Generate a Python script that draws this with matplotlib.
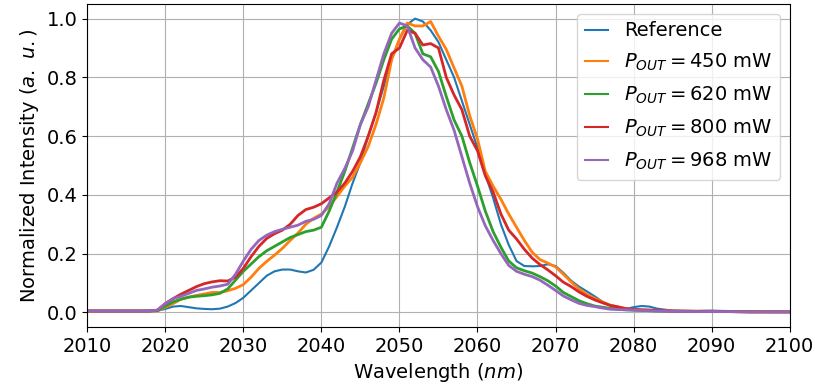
import numpy as np
import matplotlib
matplotlib.use("Agg")
import matplotlib.pyplot as plt

# wavelength grid (nm)
wl = [2010, 2015, 2018, 2019, 2020, 2021, 2022, 2023, 2024, 2025, 2026, 2027, 2028, 2029,
      2030, 2031, 2032, 2033, 2034, 2035, 2036, 2037, 2038, 2039,
      2040, 2041, 2042, 2043, 2044, 2045, 2046, 2047, 2048, 2049,
      2050, 2051, 2052, 2053, 2054, 2055, 2056, 2057, 2058, 2059,
      2060, 2061, 2062, 2063, 2064, 2065, 2066, 2067, 2068, 2069,
      2070, 2071, 2072, 2073, 2074, 2075, 2076, 2077, 2078, 2079,
      2080, 2081, 2082, 2083, 2085, 2088, 2090, 2092, 2095, 2100]

ref = [0.005, 0.005, 0.005, 0.006, 0.012, 0.020, 0.022, 0.018, 0.014, 0.012, 0.011, 0.013, 0.020, 0.032,
       0.050, 0.075, 0.100, 0.125, 0.140, 0.146, 0.146, 0.140, 0.136, 0.145,
       0.170, 0.225, 0.290, 0.360, 0.440, 0.510, 0.600, 0.680, 0.770, 0.860,
       0.930, 0.980, 1.000, 0.990, 0.960, 0.920, 0.860, 0.800, 0.720, 0.640,
       0.560, 0.470, 0.390, 0.300, 0.230, 0.175, 0.158, 0.157, 0.158, 0.164,
       0.158, 0.135, 0.108, 0.088, 0.072, 0.055, 0.037, 0.024, 0.015, 0.012,
       0.018, 0.022, 0.020, 0.013, 0.006, 0.005, 0.006, 0.005, 0.002, 0.001]

p450 = [0.005, 0.005, 0.005, 0.006, 0.018, 0.030, 0.045, 0.052, 0.058, 0.063, 0.068, 0.068, 0.074, 0.082,
        0.095, 0.120, 0.150, 0.174, 0.195, 0.218, 0.245, 0.270, 0.300, 0.320,
        0.335, 0.360, 0.395, 0.430, 0.460, 0.510, 0.565, 0.640, 0.730, 0.860,
        0.930, 0.985, 0.975, 0.975, 0.990, 0.940, 0.895, 0.832, 0.770, 0.670,
        0.590, 0.480, 0.430, 0.385, 0.335, 0.290, 0.245, 0.205, 0.180, 0.168,
        0.155, 0.130, 0.104, 0.080, 0.062, 0.048, 0.036, 0.025, 0.019, 0.013,
        0.010, 0.009, 0.008, 0.007, 0.005, 0.004, 0.004, 0.003, 0.002, 0.002]

p620 = [0.005, 0.005, 0.005, 0.006, 0.022, 0.036, 0.045, 0.052, 0.055, 0.057, 0.060, 0.065, 0.080, 0.110,
        0.140, 0.165, 0.190, 0.210, 0.225, 0.240, 0.255, 0.265, 0.275, 0.280,
        0.290, 0.345, 0.410, 0.480, 0.560, 0.640, 0.710, 0.780, 0.860, 0.930,
        0.965, 0.975, 0.950, 0.880, 0.870, 0.820, 0.735, 0.655, 0.600, 0.510,
        0.430, 0.345, 0.275, 0.222, 0.175, 0.152, 0.142, 0.134, 0.122, 0.108,
        0.090, 0.068, 0.054, 0.040, 0.030, 0.022, 0.018, 0.014, 0.011, 0.009,
        0.008, 0.007, 0.006, 0.005, 0.004, 0.003, 0.003, 0.003, 0.002, 0.002]

p800 = [0.005, 0.005, 0.005, 0.008, 0.030, 0.047, 0.062, 0.075, 0.088, 0.098, 0.104, 0.108, 0.107, 0.120,
        0.150, 0.190, 0.225, 0.252, 0.268, 0.280, 0.300, 0.330, 0.350, 0.358,
        0.370, 0.390, 0.410, 0.440, 0.480, 0.530, 0.600, 0.680, 0.790, 0.880,
        0.900, 0.960, 0.950, 0.910, 0.915, 0.900, 0.800, 0.740, 0.690, 0.600,
        0.550, 0.465, 0.410, 0.335, 0.280, 0.250, 0.215, 0.185, 0.163, 0.145,
        0.125, 0.103, 0.088, 0.070, 0.055, 0.043, 0.033, 0.024, 0.019, 0.013,
        0.010, 0.009, 0.008, 0.007, 0.005, 0.004, 0.004, 0.003, 0.002, 0.002]

p968 = [0.005, 0.005, 0.005, 0.008, 0.030, 0.047, 0.055, 0.065, 0.075, 0.080, 0.086, 0.090, 0.096, 0.130,
        0.175, 0.215, 0.245, 0.263, 0.275, 0.283, 0.290, 0.297, 0.310, 0.317,
        0.330, 0.370, 0.440, 0.490, 0.550, 0.640, 0.700, 0.790, 0.880, 0.950,
        0.985, 0.975, 0.900, 0.860, 0.835, 0.770, 0.690, 0.620, 0.530, 0.440,
        0.360, 0.295, 0.245, 0.200, 0.160, 0.140, 0.130, 0.122, 0.110, 0.093,
        0.075, 0.056, 0.043, 0.031, 0.024, 0.020, 0.015, 0.011, 0.010, 0.009,
        0.008, 0.007, 0.006, 0.005, 0.004, 0.003, 0.003, 0.003, 0.002, 0.002]

labels = ["Reference", r"$P_{OUT} = 450$ mW", r"$P_{OUT} = 620$ mW",
          r"$P_{OUT} = 800$ mW", r"$P_{OUT} = 968$ mW"]

fig = plt.figure(figsize=(8.15, 3.89), dpi=100)
ax = fig.add_subplot(111)
fig.subplots_adjust(left=0.107, right=0.969, bottom=0.159, top=0.99)

series = [ref, p450, p620, p800, p968]
for i, (y, lab) in enumerate(zip(series, labels)):
    lw = 1.5 if i == 0 else 2.0
    ax.plot(wl, y, label=lab, linewidth=lw)

ax.set_xlim(2010, 2100)
ax.set_ylim(-0.05, 1.05)
ax.set_xticks(np.arange(2010, 2101, 10))
ax.grid(True)
ax.set_xlabel(r"Wavelength ($nm$)", fontsize=14)
ax.set_ylabel(r"Normalized Intensity ($a.\ u.$)", fontsize=14)
ax.tick_params(labelsize=14)
leg = ax.legend(loc="upper right", fontsize=14, handlelength=1.2, labelspacing=0.6)
for h in leg.get_lines():
    h.set_linewidth(1.5)

plt.savefig("out.png", dpi=100)
